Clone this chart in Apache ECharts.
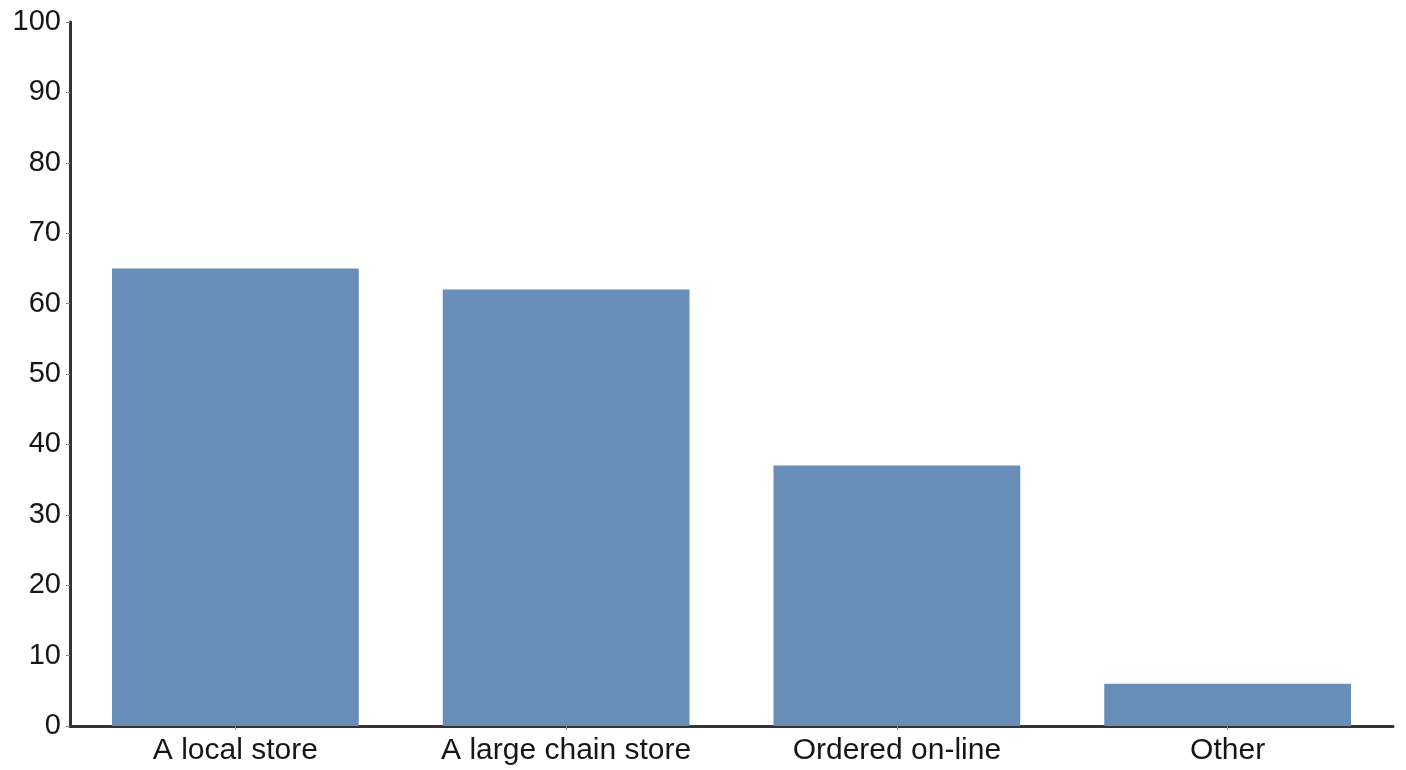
<!DOCTYPE html>
<html><head><meta charset="utf-8">
<script src="https://cdn.jsdelivr.net/npm/echarts@6/dist/echarts.min.js"></script>
<style>html,body{margin:0;padding:0;background:#fff}#c{width:1406px;height:770px}</style>
</head><body><div id="c"></div>
<script>
const categories = ["A local store", "A large chain store", "Ordered on-line", "Other"];
const values = [65, 62, 37, 6];
const chart = echarts.init(document.getElementById('c'), null, {renderer: 'canvas'});
chart.setOption({
  animation: false,
  grid: {left: 70, right: 13, top: 22, bottom: 44, containLabel: false},
  xAxis: {
    type: 'category', data: categories,
    axisLine: {lineStyle: {color: '#333', width: 3}},
    axisTick: {show: true, alignWithLabel: true, length: 4, lineStyle: {color: '#888', width: 1}},
    axisLabel: {color: '#161616', fontSize: 30, fontFamily: 'Liberation Sans, Arial, sans-serif', margin: 10}
  },
  yAxis: {
    type: 'value', min: 0, max: 100, interval: 10,
    axisLine: {show: true, lineStyle: {color: '#333', width: 3}},
    axisTick: {show: true, length: 4, lineStyle: {color: '#888', width: 1}},
    splitLine: {show: false},
    axisLabel: {color: '#161616', fontSize: 29, fontFamily: 'Liberation Sans, Arial, sans-serif', margin: 9}
  },
  series: [{
    type: 'bar', data: values, barWidth: '74.6%',
    itemStyle: {color: '#688db7'}
  }]
});
</script></body></html>
